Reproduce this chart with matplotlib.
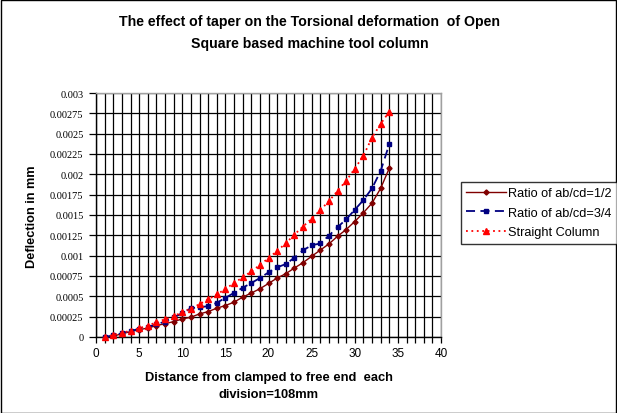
import matplotlib
matplotlib.use("Agg")
import matplotlib.pyplot as plt
import numpy as np
from matplotlib.patches import Rectangle
from matplotlib.ticker import MultipleLocator, FuncFormatter

# division number along the column
x = list(range(1, 35))

ratio_half = [0, 0.00001, 0.00004, 0.000065, 0.00009, 0.00011, 0.00014, 0.000164,
              0.000189, 0.000222, 0.000243, 0.000284, 0.000312, 0.000354, 0.000387,
              0.000428, 0.00049, 0.00054, 0.000593, 0.000658, 0.000725, 0.000778,
              0.000848, 0.000914, 0.000992, 0.001068, 0.001144, 0.001238, 0.001321,
              0.00142, 0.001527, 0.001646, 0.001827, 0.002074]

ratio_3q = [0, 0.00002, 0.000047, 0.000074, 0.0001, 0.000125, 0.000155, 0.00019,
            0.00024, 0.000293, 0.000354, 0.000366, 0.000379, 0.00042, 0.000481,
            0.000543, 0.000605, 0.000663, 0.000725, 0.000794, 0.000856, 0.000897,
            0.000975, 0.001066, 0.001128, 0.00115, 0.001246, 0.00135, 0.001446,
            0.001564, 0.001683, 0.001827, 0.002041, 0.00237]

straight = [0, 0.000025, 0.00005, 0.000078, 0.000107, 0.00014, 0.00018, 0.000218,
            0.000255, 0.000305, 0.00035, 0.000403, 0.000462, 0.000524, 0.000588,
            0.000665, 0.000732, 0.000806, 0.000885, 0.00097, 0.001058, 0.001152,
            0.001259, 0.001358, 0.001455, 0.00156, 0.00167, 0.001796, 0.00192,
            0.00207, 0.002228, 0.00245, 0.00262, 0.00277]

labels = ["Ratio of ab/cd=1/2", "Ratio of ab/cd=3/4", "Straight Column"]

SANS = ["Liberation Sans", "Arial", "DejaVu Sans"]
SERIF = ["Liberation Serif", "Times New Roman", "DejaVu Serif"]
plt.rcParams["font.family"] = SANS

W, H = 617, 414
fig = plt.figure(figsize=(W / 100, H / 100), dpi=100)
fig.add_artist(Rectangle((0.5 / W, 0.5 / H), 1 - 1.5 / W, 1 - 1.5 / H,
                         transform=fig.transFigure, fill=False, ec="black", lw=1))

ax = fig.add_axes([96 / W, 1 - 338 / H, (441 - 96) / W, (338 - 94) / H])

ax.plot(x, ratio_half, color="#800000", lw=1, marker="D", ms=2.6,
        label=labels[0], clip_on=False, zorder=3)
ax.plot(x, ratio_3q, color="#000080", lw=1.3, ls=(0, (5, 3)), marker="s", ms=3.2,
        label=labels[1], clip_on=False, zorder=3)
ax.plot(x, straight, color="#FF0000", lw=1.3, ls=(0, (1, 2)), marker="^", ms=3.8,
        label=labels[2], clip_on=False, zorder=3)

ax.set_xlim(0, 40)
ax.set_ylim(0, 0.003)
ax.xaxis.set_major_locator(MultipleLocator(5))
ax.xaxis.set_minor_locator(MultipleLocator(1))
ax.yaxis.set_major_locator(MultipleLocator(0.00025))
ax.yaxis.set_major_formatter(FuncFormatter(lambda v, p: f"{v:.5f}".rstrip("0").rstrip(".") if v else "0"))
ax.grid(True, which="both", axis="x", color="black", lw=0.9)
ax.grid(True, which="major", axis="y", color="black", lw=0.9)
ax.set_axisbelow(True)

ax.tick_params(axis="x", which="both", direction="out", length=4, width=0.9,
               labelsize=8.5, pad=3)
ax.tick_params(axis="y", direction="out", length=5, width=0.9, labelsize=7.5, pad=4)
for t in ax.get_yticklabels():
    t.set_fontfamily(SERIF)

for s in ("left", "bottom"):
    ax.spines[s].set_color("black")
    ax.spines[s].set_linewidth(1)
for s in ("top", "right"):
    ax.spines[s].set_color("#A0A0A0")
    ax.spines[s].set_linewidth(1)

fig.text(0.502, 1 - 15 / H,
         "The effect of taper on the Torsional deformation  of Open\n"
         "Square based machine tool column",
         ha="center", va="top", fontsize=10.2, fontweight="bold", linespacing=1.75)
fig.text(268.5 / W, 1 - 372 / H,
         "Distance from clamped to free end  each\ndivision=108mm",
         ha="center", va="top", fontsize=9.3, fontweight="bold", linespacing=1.6)
fig.text(32 / W, 1 - 217 / H, "Deflection in mm", rotation=90,
         ha="center", va="center", fontsize=9.2, fontweight="bold")

leg = fig.legend(loc="upper left", bbox_to_anchor=(461 / W, 1 - 183 / H),
                 fontsize=9.2, frameon=True, fancybox=False, handlelength=3.1,
                 borderpad=0.4, labelspacing=0.6, handletextpad=0.2,
                 borderaxespad=0)
leg.get_frame().set_edgecolor("black")
leg.get_frame().set_linewidth(1)

fig.savefig("out.png", dpi=100)
